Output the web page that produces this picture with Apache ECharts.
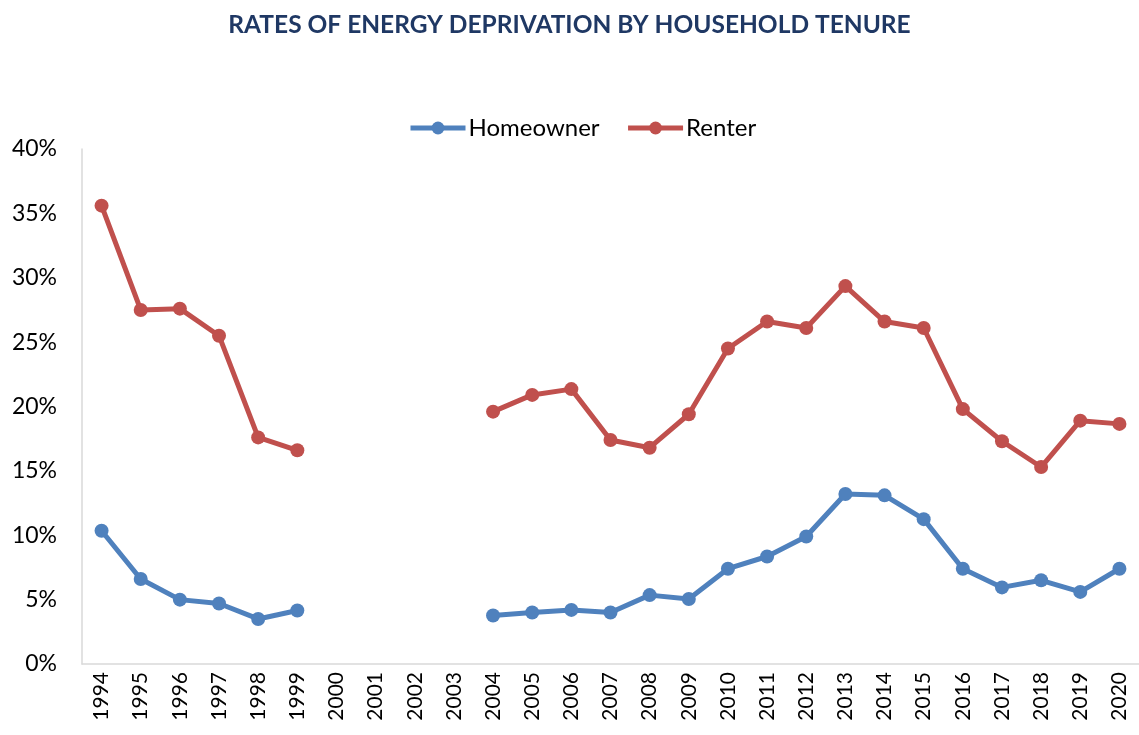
<!DOCTYPE html>
<html lang="en">
<head>
    <meta charset="UTF-8">
    <title>Rates of energy deprivation by household tenure</title>
    <script src="https://cdn.jsdelivr.net/npm/echarts@6/dist/echarts.min.js"></script>
    <style>
        html, body { margin: 0; padding: 0; background: #fff; }
        #chart { width: 1139px; height: 735px; }
    </style>
</head>
<body>
<div id="chart"></div>
<script type="text/javascript">
    // years on the x axis
    var years = ['1994', '1995', '1996', '1997', '1998', '1999', '2000', '2001', '2002', '2003',
        '2004', '2005', '2006', '2007', '2008', '2009', '2010', '2011', '2012', '2013',
        '2014', '2015', '2016', '2017', '2018', '2019', '2020'];
    // share of households, in percent (no survey 2000-2003)
    var homeowner = [10.35, 6.6, 5.0, 4.7, 3.5, 4.15, null, null, null, null,
        3.77, 4.0, 4.2, 4.0, 5.35, 5.05, 7.4, 8.35, 9.9, 13.2,
        13.1, 11.25, 7.4, 5.95, 6.5, 5.6, 7.4];
    var renter = [35.6, 27.5, 27.6, 25.5, 17.6, 16.6, null, null, null, null,
        19.6, 20.9, 21.35, 17.4, 16.8, 19.4, 24.5, 26.6, 26.1, 29.35,
        26.6, 26.1, 19.8, 17.3, 15.3, 18.9, 18.65];

    var myChart = echarts.init(document.getElementById('chart'));
    var font = 'Lato';

    var option = {
        animation: false,
        title: {
            text: 'RATES OF ENERGY DEPRIVATION BY HOUSEHOLD TENURE',
            left: 'center',
            top: 8,
            textStyle: { fontFamily: font, fontSize: 24.5, fontWeight: 'bold', color: '#1F3864' }
        },
        legend: {
            top: 111,
            left: 403,
            itemWidth: 55,
            itemHeight: 16,
            itemGap: 26,
            itemStyle: { borderWidth: 0 },
            lineStyle: { width: 5 },
            textStyle: { fontFamily: font, fontSize: 24, color: '#000', padding: [0, 0, 0, -2] },
            data: ['Homeowner', 'Renter']
        },
        grid: { left: 82, right: -7, top: 149, bottom: 71 },
        xAxis: {
            type: 'category',
            data: years,
            boundaryGap: true,
            axisLine: { lineStyle: { color: '#d9d9d9', width: 1.5 } },
            axisTick: { show: false },
            axisLabel: { rotate: 90, interval: 0, margin: 8, fontFamily: font, fontSize: 21, color: '#000' }
        },
        yAxis: {
            type: 'value',
            min: 0,
            max: 40,
            interval: 5,
            splitLine: { show: false },
            axisLine: { show: true, lineStyle: { color: '#d9d9d9', width: 1.5 } },
            axisTick: { show: false },
            axisLabel: { formatter: '{value}%', margin: 25, fontFamily: font, fontSize: 23, color: '#000' }
        },
        series: [{
            name: 'Homeowner',
            type: 'line',
            data: homeowner,
            symbol: 'circle',
            symbolSize: 14,
            itemStyle: { color: '#4F81BD' },
            lineStyle: { color: '#4F81BD', width: 5 }
        }, {
            name: 'Renter',
            type: 'line',
            data: renter,
            symbol: 'circle',
            symbolSize: 14,
            itemStyle: { color: '#C0504D' },
            lineStyle: { color: '#C0504D', width: 5 }
        }]
    };
    myChart.setOption(option);
</script>
</body>
</html>
